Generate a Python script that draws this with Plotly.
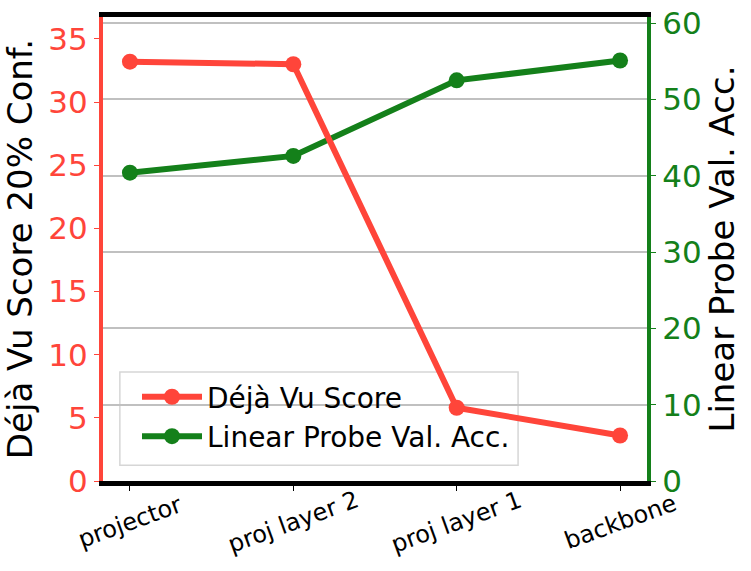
import plotly.graph_objects as go

categories = ["projector", "proj layer 2", "proj layer 1", "backbone"]
dejavu_score = [33.2, 33.0, 5.8, 3.6]
linear_probe_acc = [40.4, 42.6, 52.5, 55.1]

left_ticks = [0, 5, 10, 15, 20, 25, 30, 35]
right_ticks = [0, 10, 20, 30, 40, 50, 60]

RED = "#ff453a"
GREEN = "#14801a"
FONT = "DejaVu Sans"

fig = go.Figure()
fig.add_trace(go.Scatter(
    x=categories, y=linear_probe_acc, name="Linear Probe Val. Acc.",
    mode="lines+markers", line=dict(color=GREEN, width=6),
    marker=dict(size=16, color=GREEN), yaxis="y", legendrank=2))
fig.add_trace(go.Scatter(
    x=categories, y=dejavu_score, name="Déjà Vu Score",
    mode="lines+markers", line=dict(color=RED, width=6),
    marker=dict(size=16, color=RED), yaxis="y2", legendrank=1))

# category labels, rotated and centred on their ticks
for c in categories:
    fig.add_annotation(x=c, y=0, xref="x", yref="paper", text=c, showarrow=False,
                       textangle=-20, xanchor="center", yanchor="middle", yshift=-41,
                       font=dict(size=24, family=FONT, color="black"))

# legend frame (drawn beneath the lines, above the grid)
fig.add_shape(type="rect", xref="paper", yref="paper", x0=0.031, x1=0.763, y0=0.034, y1=0.235,
              layer="between", fillcolor="rgba(255,255,255,0.8)",
              line=dict(color="#d6d6d6", width=1.5))

fig.update_layout(
    width=751, height=571,
    margin=dict(l=103, r=104, t=17, b=90, autoexpand=False),
    paper_bgcolor="white", plot_bgcolor="white",
    font=dict(family=FONT, color="black"),
    showlegend=True,
    legend=dict(x=0.0625, y=0.043, xanchor="left", yanchor="bottom",
                bgcolor="rgba(0,0,0,0)", borderwidth=0,
                font=dict(size=28, family=FONT), itemwidth=60, tracegroupgap=0),
    xaxis=dict(type="category", range=[-0.165, 3.165], showticklabels=False, automargin=False,
               ticks="outside", ticklen=5,
               tickcolor="black", showgrid=False, showline=True, linecolor="black",
               linewidth=5, mirror=True, zeroline=False),
    yaxis=dict(side="right", range=[0, 60.8], tickvals=right_ticks, automargin=False,
               tickfont=dict(size=31, color=GREEN, family=FONT),
               title=dict(text="Linear Probe Val. Acc.", font=dict(size=34, color="black", family=FONT), standoff=8),
               showgrid=True, gridcolor="#c0c0c0", gridwidth=2,
               showline=True, linecolor=GREEN, linewidth=4,
               ticks="outside", ticklen=5, tickcolor=GREEN, zeroline=False),
    yaxis2=dict(side="left", overlaying="y", range=[0, 36.74], tickvals=left_ticks, automargin=False,
                tickfont=dict(size=31, color=RED, family=FONT),
                title=dict(text="Déjà Vu Score 20% Conf.", font=dict(size=34, color="black", family=FONT), standoff=8),
                showgrid=False, showline=True, linecolor=RED, linewidth=4,
                ticks="outside", ticklen=5, tickcolor=RED, zeroline=False),
)

fig.write_html("out.html", config={"displayModeBar": False},
               post_script="document.body.style.margin='0px';")
